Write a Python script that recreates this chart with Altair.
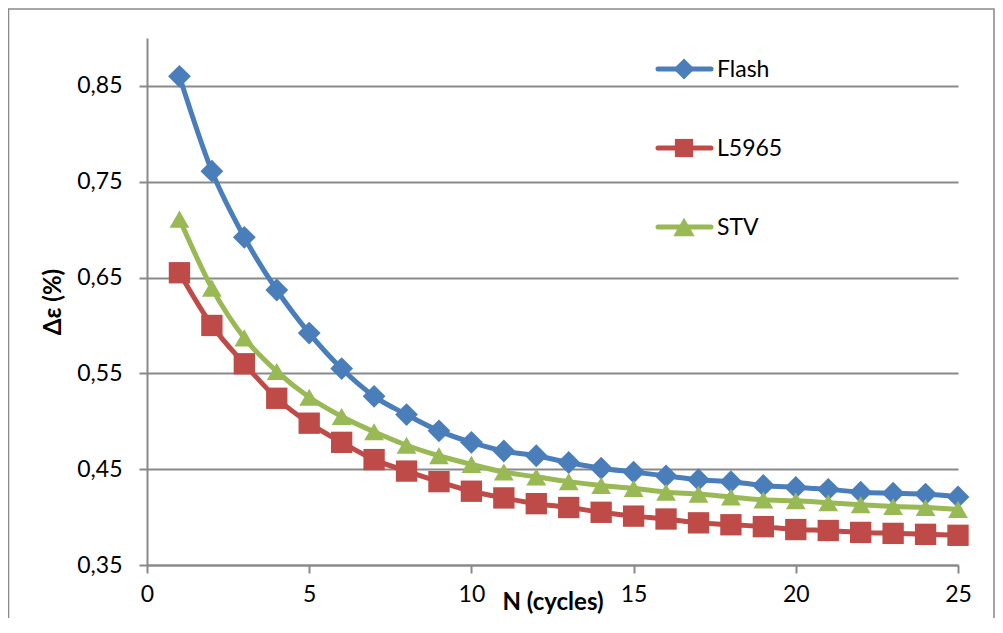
import altair as alt
import pandas as pd

# ---- data ----
cycles = list(range(1, 26))
flash = [0.860, 0.761, 0.692, 0.637, 0.592, 0.555, 0.526, 0.507, 0.490, 0.478,
         0.469, 0.464, 0.457, 0.451, 0.447, 0.443, 0.439, 0.437, 0.433, 0.431,
         0.429, 0.426, 0.425, 0.424, 0.421]
l5965 = [0.655, 0.600, 0.560, 0.524, 0.498, 0.478, 0.460, 0.448, 0.437, 0.427,
         0.420, 0.414, 0.410, 0.405, 0.401, 0.398, 0.394, 0.392, 0.390, 0.387,
         0.386, 0.384, 0.383, 0.382, 0.381]
stv = [0.711, 0.639, 0.587, 0.552, 0.525, 0.505, 0.489, 0.475, 0.464, 0.455,
       0.447, 0.442, 0.437, 0.433, 0.430, 0.426, 0.424, 0.421, 0.418, 0.417,
       0.415, 0.413, 0.411, 0.410, 0.408]

series_names = ["Flash", "L5965", "STV"]
series_colors = ["#4A7EBB", "#BE4B48", "#98B954"]
series_shapes = ["diamond", "square", "triangle-up"]
series_sizes = [520, 390, 540]
x_ticks = [0, 5, 10, 15, 20, 25]
y_ticks = [0.35, 0.45, 0.55, 0.65, 0.75, 0.85]

rows = []
for name, vals in zip(series_names, [flash, l5965, stv]):
    for n, v in zip(cycles, vals):
        rows.append({"N": n, "value": v, "series": name})
df = pd.DataFrame(rows)

FONT = "Lato"
GRAY = "#898989"
W, H = 811, 527

color_scale = alt.Scale(domain=series_names, range=series_colors)
shape_scale = alt.Scale(domain=series_names, range=series_shapes)
size_scale = alt.Scale(domain=series_names, range=series_sizes)

x_enc = alt.X(
    "N:Q",
    scale=alt.Scale(domain=[0, 25], nice=False),
    axis=alt.Axis(
        values=x_ticks, grid=False, title="N (cycles)",
        domainColor=GRAY, domainWidth=2, tickColor=GRAY, tickWidth=2, tickSize=8,
        labelFont=FONT, labelFontSize=23, labelColor="#000000", labelPadding=10,
        labelFlush=False, labelOverlap=False,
        titleFont=FONT, titleFontSize=24, titleFontWeight="bold", titleColor="#000000",
        titleX=W / 2, titleY=44, titleBaseline="alphabetic", titleAlign="center",
    ),
)
y_enc = alt.Y(
    "value:Q",
    scale=alt.Scale(domain=[0.35, 0.9], nice=False, zero=False),
    axis=alt.Axis(
        values=y_ticks, grid=True, gridColor=GRAY, gridWidth=2,
        labelExpr="replace(format(datum.value, '.2f'), '.', ',')",
        title="Δε (%)",
        domainColor=GRAY, domainWidth=2, tickColor=GRAY, tickWidth=2, tickSize=8,
        labelFont=FONT, labelFontSize=23, labelColor="#000000", labelPadding=17,
        labelFlush=False, labelOverlap=False,
        titleFont=FONT, titleFontSize=24, titleFontWeight="bold", titleColor="#000000",
        titleX=-94, titleY=H / 2, titleBaseline="middle", titleAlign="center", titleAngle=270,
    ),
)

base = alt.Chart(df)

lines = base.mark_line(interpolate="monotone", strokeWidth=5).encode(
    x=x_enc, y=y_enc,
    color=alt.Color("series:N", scale=color_scale, legend=None),
)
points = base.mark_point(filled=True, opacity=1).encode(
    x="N:Q", y="value:Q",
    color=alt.Color("series:N", scale=color_scale, legend=None),
    shape=alt.Shape("series:N", scale=shape_scale, legend=None),
    size=alt.Size("series:N", scale=size_scale, legend=None),
)

one = pd.DataFrame({"k": [0]})
border = alt.Chart(one).mark_rect(fill=None, stroke=GRAY, strokeWidth=1.5, clip=False).encode(
    x=alt.value(-138.5), x2=alt.value(847), y=alt.value(-29), y2=alt.value(700)
)

legend_layers = []
legend_y = [31, 110, 189]
for name, col, shp, sz, ly in zip(series_names, series_colors, series_shapes, series_sizes, legend_y):
    d = pd.DataFrame({"series": [name]})
    legend_layers.append(
        alt.Chart(d).mark_rule(color=col, strokeWidth=5, strokeCap="round").encode(
            x=alt.value(511), x2=alt.value(564), y=alt.value(ly)
        )
    )
    legend_layers.append(
        alt.Chart(d).mark_point(filled=True, opacity=1, color=col, shape=shp, size=sz * 0.85).encode(
            x=alt.value(537), y=alt.value(ly)
        )
    )
    legend_layers.append(
        alt.Chart(d).mark_text(align="left", baseline="middle", font=FONT, fontSize=23, color="#000000").encode(
            x=alt.value(570), y=alt.value(ly + 1), text="series:N"
        )
    )

chart = alt.layer(border, lines, points, *legend_layers).properties(
    width=W, height=H,
    padding={"left": 139, "top": 30, "right": 37, "bottom": 53},
    autosize=alt.AutoSizeParams(type="none"),
    background="#ffffff",
).configure_view(stroke=None)

chart.save("out.html", embed_options={"renderer": "svg", "actions": False})
